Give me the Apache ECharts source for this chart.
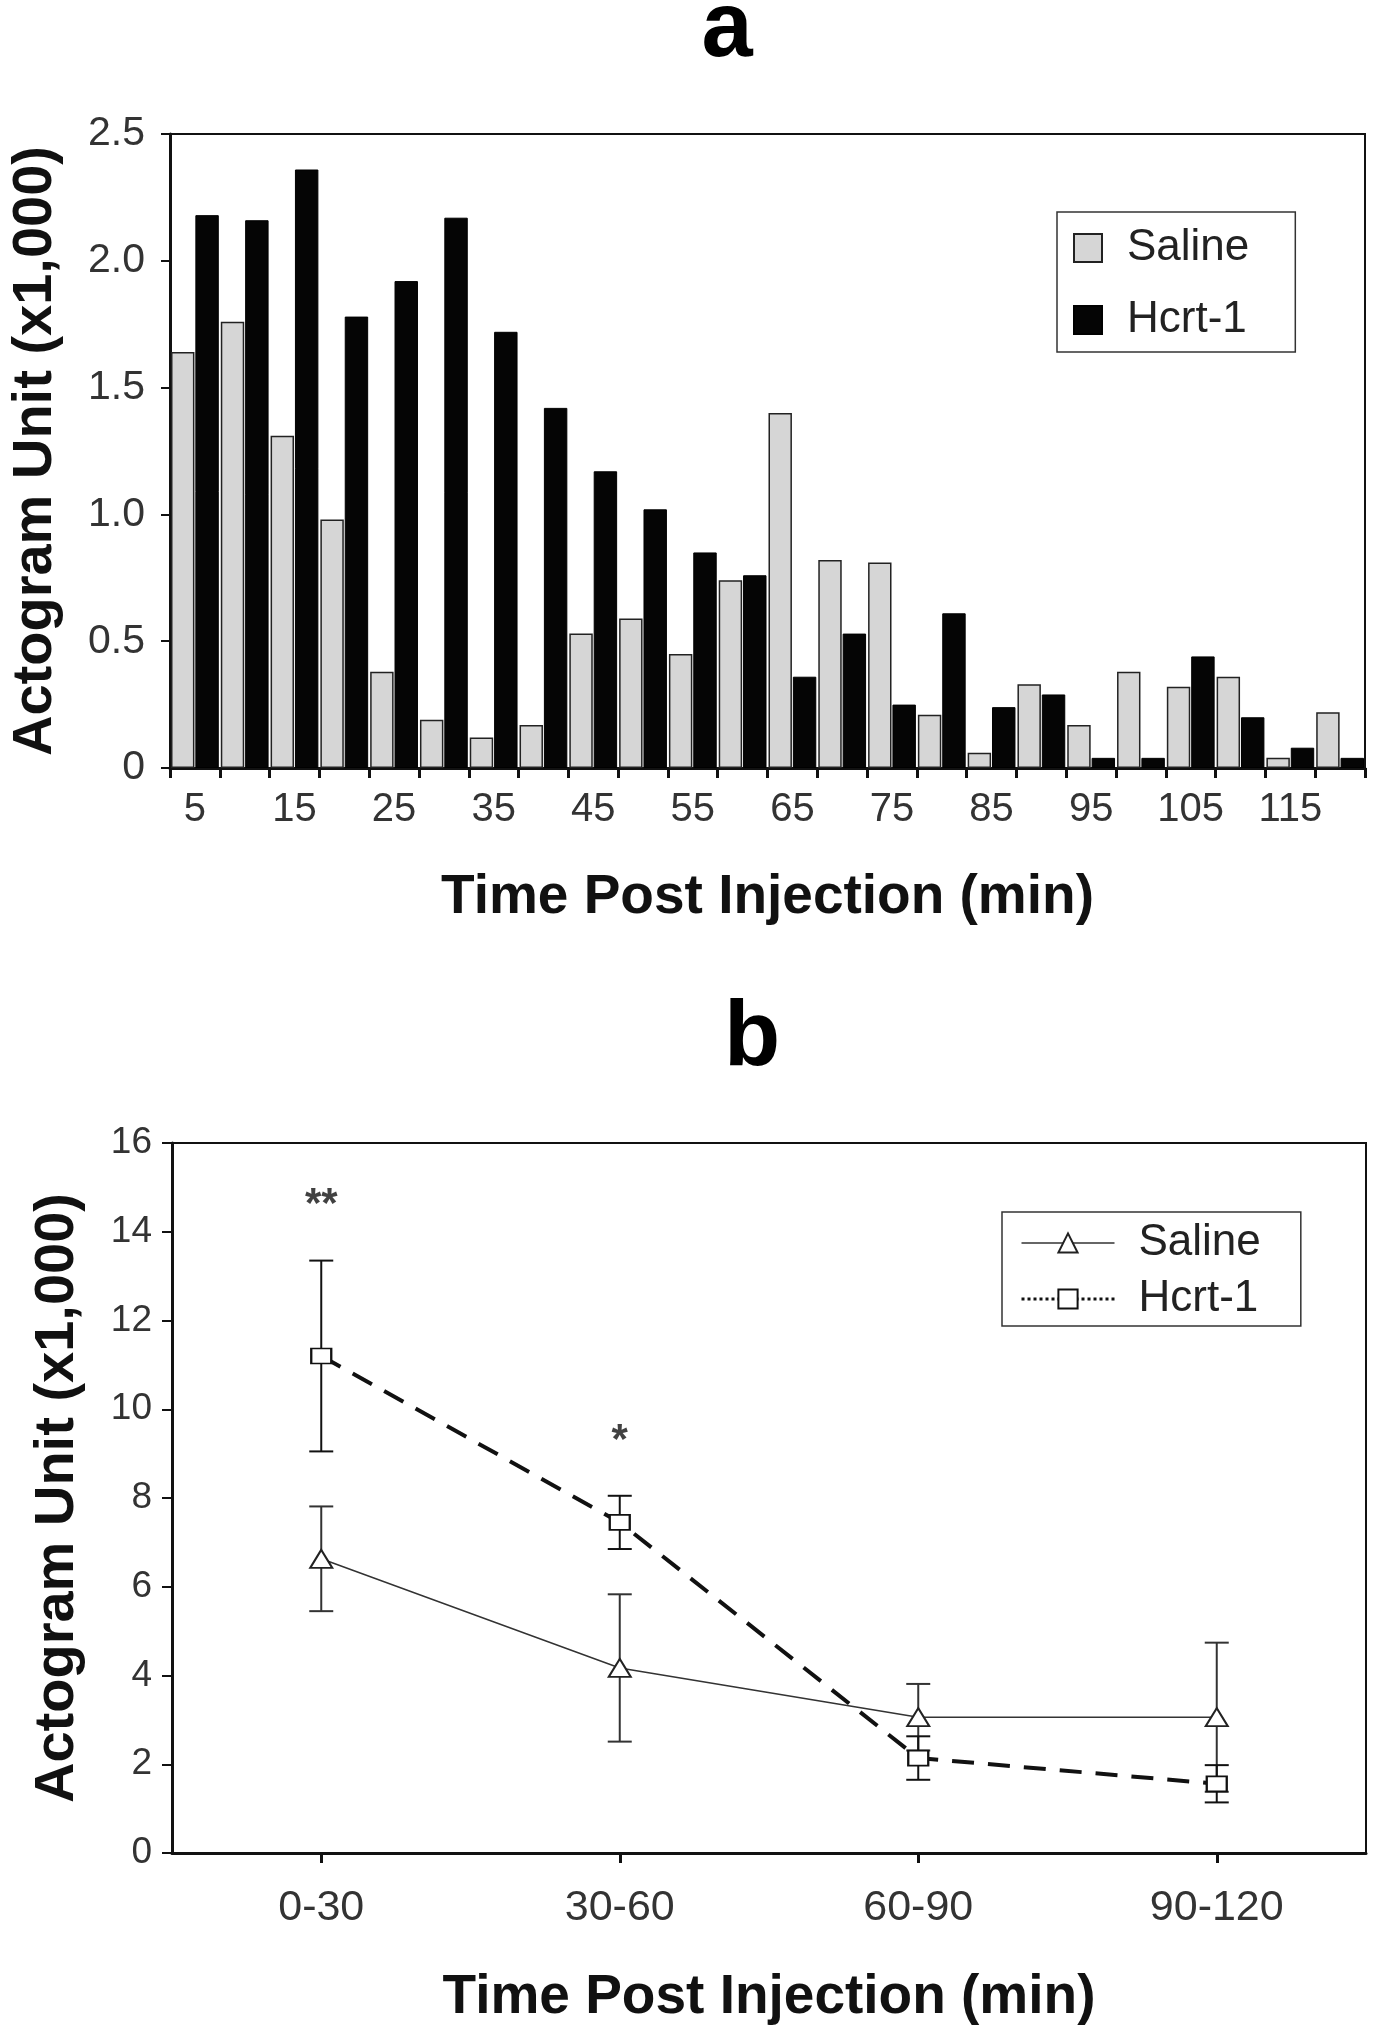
<!DOCTYPE html>
<html>
<head>
<meta charset="utf-8">
<script src="https://cdn.jsdelivr.net/npm/echarts@6/dist/echarts.min.js"></script>
<style>
  html, body { margin:0; padding:0; background:#fff; }
  #c { width:1384px; height:2040px; }
</style>
</head>
<body>
<div id="c"></div>
<script>
// ---------- Panel a data ----------
const minutes = ['5','10','15','20','25','30','35','40','45','50','55','60','65','70','75','80','85','90','95','100','105','110','115','120'];
const salineA = [1.64,1.76,1.31,0.98,0.38,0.19,0.12,0.17,0.53,0.59,0.45,0.74,1.40,0.82,0.81,0.21,0.06,0.33,0.17,0.38,0.32,0.36,0.04,0.22];
const hcrtA   = [2.18,2.16,2.36,1.78,1.92,2.17,1.72,1.42,1.17,1.02,0.85,0.76,0.36,0.53,0.25,0.61,0.24,0.29,0.04,0.04,0.44,0.20,0.08,0.04];
const yTicksA = [0, 0.5, 1.0, 1.5, 2.0, 2.5];

// ---------- Panel b data ----------
const periods    = ['0-30','30-60','60-90','90-120'];
const salineMean = [6.63, 4.17, 3.06, 3.06];
const salineErr  = [1.18, 1.66, 0.75, 1.68];
const hcrtMean   = [11.2, 7.45, 2.14, 1.56];
const hcrtErr    = [2.15, 0.6, 0.49, 0.42];
const sigIndex   = [0, 1];
const sigY       = [14.78, 9.45];
const sigLabels  = ['**', '*'];

const FONT = "'Liberation Sans', Arial, sans-serif";
const chart = echarts.init(document.getElementById('c'), null, {renderer:'canvas'});

function errBarData(means, errs) {
  return means.map((m, i) => [i, m - errs[i], m + errs[i]]);
}
function errRender(color) {
  return function (params, api) {
    const x = api.value(0);
    const lo = api.coord([x, api.value(1)]);
    const hi = api.coord([x, api.value(2)]);
    const hw = 12;
    const st = { stroke: color, lineWidth: 2 };
    return { type:'group', children:[
      { type:'line', shape:{x1:lo[0], y1:lo[1], x2:hi[0], y2:hi[1]}, style:st },
      { type:'line', shape:{x1:lo[0]-hw, y1:lo[1], x2:lo[0]+hw, y2:lo[1]}, style:st },
      { type:'line', shape:{x1:hi[0]-hw, y1:hi[1], x2:hi[0]+hw, y2:hi[1]}, style:st }
    ]};
  };
}
const stripTag = n => n.replace(/ \[[ab]\]$/, '');

const option = {
  backgroundColor: '#fff',
  animation: false,
  graphic: [
    { type:'text', style:{ text:'a', x:727, y:31, font:'bold 92px ' + FONT, fill:'#000', textAlign:'center', textVerticalAlign:'middle' } },
    { type:'text', style:{ text:'b', x:752, y:1040, font:'bold 92px ' + FONT, fill:'#000', textAlign:'center', textVerticalAlign:'middle' } }
  ],
  grid: [
    { left:167, top:134, width:1198, height:634, show:true, borderColor:'#111', borderWidth:2, backgroundColor:'transparent' },
    { left:172, top:1143, width:1194, height:710, show:true, borderColor:'#111', borderWidth:2, backgroundColor:'transparent' }
  ],
  legend: [
    {
      data: [{name:'Saline [a]', icon:'rect'}, {name:'Hcrt-1 [a]', icon:'rect'}],
      formatter: n => '{t|' + stripTag(n) + '}',
      orient:'vertical', left:1057, top:212,
      itemWidth:28, itemHeight:28, itemGap:28, itemTextGap:5,
      padding:[14, 46, 10, 16],
      borderColor:'#333', borderWidth:1.5, backgroundColor:'#fff',
      textStyle:{ fontSize:44, color:'#222', fontFamily:FONT,
        rich:{ t:{ fontSize:44, color:'#222', fontFamily:FONT, padding:[0,0,0,20] } } },
      selectedMode:false
    },
    {
      data: [
        {name:'Saline [b]', lineStyle:{ width:1.5, type:'solid' }},
        {name:'Hcrt-1 [b]', lineStyle:{ width:3, type:'dotted' }}
      ],
      formatter: n => '{t|' + stripTag(n) + '}',
      orient:'vertical', left:1002, top:1212,
      itemWidth:93, itemHeight:24, itemGap:12, itemTextGap:5,
      padding:[9, 40, 5, 18],
      borderColor:'#333', borderWidth:1.5, backgroundColor:'#fff',
      textStyle:{ fontSize:44, color:'#222', fontFamily:FONT,
        rich:{ t:{ fontSize:44, color:'#222', fontFamily:FONT, padding:[0,0,0,19] } } },
      selectedMode:false
    }
  ],
  xAxis: [
    {
      gridIndex:0, type:'category', data:minutes, boundaryGap:true,
      axisLine:{ lineStyle:{ color:'#111', width:3 } },
      axisTick:{ show:true, interval:0, length:10, lineStyle:{ color:'#111', width:3 } },
      axisLabel:{ interval:1, fontSize:40, color:'#333', margin:22, fontFamily:FONT },
      name:'Time Post Injection (min)', nameLocation:'middle', nameGap:102,
      nameTextStyle:{ fontSize:55, fontWeight:'bold', color:'#111', fontFamily:FONT }
    },
    {
      gridIndex:1, type:'category', data:periods, boundaryGap:true,
      axisLine:{ lineStyle:{ color:'#111', width:3 } },
      axisTick:{ show:true, alignWithLabel:true, length:10, lineStyle:{ color:'#111', width:3 } },
      axisLabel:{ fontSize:43, color:'#333', margin:34, fontFamily:FONT },
      name:'Time Post Injection (min)', nameLocation:'middle', nameGap:117,
      nameTextStyle:{ fontSize:55, fontWeight:'bold', color:'#111', fontFamily:FONT }
    }
  ],
  yAxis: [
    {
      gridIndex:0, type:'value', min:yTicksA[0], max:yTicksA[yTicksA.length-1], interval:0.5,
      splitLine:{ show:false },
      axisLine:{ show:true, lineStyle:{ color:'#111', width:3 } },
      axisTick:{ show:true, length:9, lineStyle:{ color:'#111', width:2 } },
      axisLabel:{ fontSize:41, color:'#333', margin:25, fontFamily:FONT,
        formatter: v => v === 0 ? '0' : v.toFixed(1) },
      name:'Actogram Unit (x1,000)', nameLocation:'middle', nameGap:106, nameRotate:90,
      nameTextStyle:{ fontSize:56, fontWeight:'bold', color:'#111', fontFamily:FONT }
    },
    {
      gridIndex:1, type:'value', min:0, max:16, interval:2,
      splitLine:{ show:false },
      axisLine:{ show:true, lineStyle:{ color:'#111', width:3 } },
      axisTick:{ show:true, length:10, lineStyle:{ color:'#111', width:2 } },
      axisLabel:{ fontSize:37, color:'#333', margin:20, fontFamily:FONT },
      name:'Actogram Unit (x1,000)', nameLocation:'middle', nameGap:86, nameRotate:90,
      nameTextStyle:{ fontSize:56, fontWeight:'bold', color:'#111', fontFamily:FONT }
    }
  ],
  series: [
    {
      name:'Saline [a]', type:'bar', xAxisIndex:0, yAxisIndex:0, data:salineA,
      barGap:'4%', barCategoryGap:'4%',
      itemStyle:{ color:'#d6d6d6', borderColor:'#222', borderWidth:1.5 }
    },
    {
      name:'Hcrt-1 [a]', type:'bar', xAxisIndex:0, yAxisIndex:0, data:hcrtA,
      barGap:'4%', barCategoryGap:'4%',
      itemStyle:{ color:'#050505', borderColor:'#000', borderWidth:1 }
    },
    {
      name:'salineErr', type:'custom', xAxisIndex:1, yAxisIndex:1, z:2,
      data: errBarData(salineMean, salineErr), renderItem: errRender('#333')
    },
    {
      name:'hcrtErr', type:'custom', xAxisIndex:1, yAxisIndex:1, z:2,
      data: errBarData(hcrtMean, hcrtErr), renderItem: errRender('#111')
    },
    {
      name:'Saline [b]', type:'line', xAxisIndex:1, yAxisIndex:1, data:salineMean, z:3,
      symbol:'triangle', symbolSize:[22,18], showSymbol:true,
      lineStyle:{ color:'#333', width:1.5 },
      itemStyle:{ color:'#fff', borderColor:'#222', borderWidth:2 }
    },
    {
      name:'Hcrt-1 [b]', type:'line', xAxisIndex:1, yAxisIndex:1, data:hcrtMean, z:3,
      symbol:'rect', symbolSize:[20,15], showSymbol:true,
      lineStyle:{ color:'#111', width:4, type:[22,14] },
      itemStyle:{ color:'#fff', borderColor:'#111', borderWidth:2 }
    },
    {
      name:'sig', type:'scatter', xAxisIndex:1, yAxisIndex:1, z:4,
      data: sigIndex.map((x, i) => [x, sigY[i], sigLabels[i]]),
      symbolSize:1, itemStyle:{ color:'rgba(0,0,0,0)' },
      label:{ show:true, position:'inside', offset:[0,8], formatter: p => p.value[2],
        fontSize:42, fontWeight:'bold', color:'#111', fontFamily:FONT }
    }
  ]
};
chart.setOption(option);
</script>
</body>
</html>
